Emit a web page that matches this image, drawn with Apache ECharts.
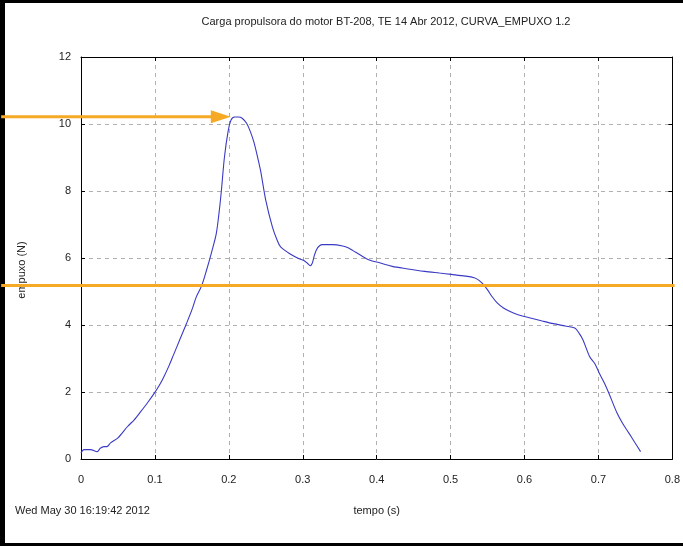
<!DOCTYPE html>
<html>
<head>
<meta charset="utf-8">
<script src="https://cdn.jsdelivr.net/npm/echarts@6/dist/echarts.min.js"></script>
<style>html,body{margin:0;padding:0;background:#fff;}#c{width:683px;height:546px;}</style>
</head>
<body>
<div id="c"></div>
<script>
// thrust curve (time in s, thrust in N)
var timeS = [0.000,0.004,0.013,0.022,0.026,0.031,0.035,0.040,0.050,0.063,0.072,0.081,0.090,0.099,0.106,0.112,0.119,0.125,0.134,0.143,0.150,0.156,0.163,0.170,0.177,0.183,0.187,0.190,0.194,0.199,0.203,0.208,0.213,0.218,0.224,0.229,0.234,0.239,0.243,0.250,0.259,0.265,0.270,0.283,0.295,0.301,0.306,0.310,0.313,0.316,0.320,0.326,0.340,0.354,0.362,0.368,0.380,0.390,0.405,0.421,0.440,0.465,0.485,0.501,0.520,0.532,0.538,0.543,0.550,0.556,0.563,0.572,0.585,0.597,0.608,0.624,0.639,0.655,0.668,0.674,0.679,0.688,0.695,0.701,0.708,0.714,0.725,0.733,0.741,0.749,0.757];
var thrustN = [0.18,0.28,0.28,0.22,0.32,0.37,0.37,0.48,0.63,0.97,1.17,1.42,1.68,1.96,2.20,2.45,2.78,3.10,3.58,4.06,4.45,4.84,5.16,5.65,6.20,6.73,7.40,8.03,9.00,9.78,10.12,10.21,10.21,10.17,10.02,9.78,9.45,9.00,8.60,7.72,6.92,6.55,6.33,6.12,5.98,5.93,5.85,5.77,5.85,6.10,6.30,6.40,6.40,6.36,6.30,6.22,6.06,5.94,5.85,5.75,5.68,5.60,5.55,5.51,5.46,5.41,5.34,5.24,5.05,4.85,4.66,4.50,4.36,4.27,4.21,4.12,4.04,3.97,3.91,3.75,3.56,3.06,2.85,2.57,2.27,1.97,1.38,1.05,0.78,0.50,0.22];
// orange annotations (data units)
var peakArrowT = [-0.108, 0.2027];   // start, arrow tip
var peakArrowN = [10.22, 10.22];
var avgLineT = [-0.108, 0.803];
var avgLineN = [5.18, 5.18];

var xTicks = { min: 0, max: 0.8, interval: 0.1 };
var yTicks = { min: 0, max: 12, interval: 2 };

var titleText = 'Carga propulsora do motor BT-208, TE 14 Abr 2012, CURVA_EMPUXO 1.2';
var dateText = 'Wed May 30 16:19:42 2012';
var xName = 'tempo (s)';
var yName = 'empuxo (N)';

function pairs(a, b) { return a.map(function (v, i) { return [v, b[i]]; }); }

var FONT = '"Liberation Sans", Arial, sans-serif';
var ORANGE = '#f5a925';
var chart = echarts.init(document.getElementById('c'), null, { renderer: 'canvas' });

var frame = [
  { type: 'text', left: 15, top: 505, style: { text: dateText, fontSize: 11, fill: '#222', fontFamily: FONT } },
  { type: 'text', x: 22, y: 270, rotation: Math.PI / 2,
    style: { text: yName, fontSize: 11, fill: '#222', fontFamily: FONT, align: 'center', verticalAlign: 'middle' } },
  { type: 'rect', shape: { x: 0, y: 0, width: 5, height: 546 }, style: { fill: '#000' }, z: 10 },
  { type: 'rect', shape: { x: 0, y: 0, width: 683, height: 3 }, style: { fill: '#000' }, z: 10 },
  { type: 'rect', shape: { x: 0, y: 543, width: 683, height: 3 }, style: { fill: '#000' }, z: 10 }
];

chart.setOption({
  animation: false,
  backgroundColor: '#fff',
  title: {
    text: titleText, left: 381, top: 11, textAlign: 'center',
    textStyle: { fontSize: 11, fontWeight: 'normal', color: '#222', fontFamily: FONT }
  },
  grid: { left: 81, right: 2, top: 57, bottom: 87 },
  xAxis: [{
    type: 'value', min: xTicks.min, max: xTicks.max, interval: xTicks.interval,
    name: xName, nameLocation: 'middle', nameGap: 46,
    nameTextStyle: { fontSize: 11, color: '#222', fontFamily: FONT },
    axisLine: { onZero: false, lineStyle: { color: '#000', width: 1 } },
    axisTick: { inside: true, length: 4, lineStyle: { color: '#000' } },
    axisLabel: { fontSize: 11, color: '#222', margin: 15, fontFamily: FONT, showMaxLabel: true },
    splitLine: { show: true, lineStyle: { color: '#b0b0b0', type: [4, 4], width: 1 } }
  }, {
    type: 'value', position: 'top', min: xTicks.min, max: xTicks.max, interval: xTicks.interval,
    axisLine: { onZero: false, lineStyle: { color: '#000', width: 1 } },
    axisTick: { inside: true, length: 4, lineStyle: { color: '#000' } },
    axisLabel: { show: false }, splitLine: { show: false }
  }],
  yAxis: [{
    type: 'value', min: yTicks.min, max: yTicks.max, interval: yTicks.interval,
    axisLine: { show: true, onZero: false, lineStyle: { color: '#000', width: 1 } },
    axisTick: { show: true, inside: true, length: 4, lineStyle: { color: '#000' } },
    axisLabel: { fontSize: 11, color: '#222', margin: 10, fontFamily: FONT },
    splitLine: { show: true, lineStyle: { color: '#b0b0b0', type: [4, 4], width: 1 } }
  }, {
    type: 'value', position: 'right', min: yTicks.min, max: yTicks.max, interval: yTicks.interval,
    axisLine: { show: true, onZero: false, lineStyle: { color: '#000', width: 1 } },
    axisTick: { show: true, inside: true, length: 4, lineStyle: { color: '#000' } },
    axisLabel: { show: false }, splitLine: { show: false }
  }],
  series: [{
    type: 'line', data: pairs(timeS, thrustN), showSymbol: false, symbol: 'none',
    lineStyle: { color: '#3a3ac4', width: 1.1 }, smooth: 0.3, z: 3
  }],
  graphic: frame
});

// orange annotations placed through the chart's own scales
function px(t, n) { return chart.convertToPixel({ gridIndex: 0 }, [t, n]); }
var a0 = px(peakArrowT[0], peakArrowN[0]);
var a1 = px(peakArrowT[1], peakArrowN[1]);
var l0 = px(avgLineT[0], avgLineN[0]);
var l1 = px(avgLineT[1], avgLineN[1]);
var headLen = 20, headHalf = 6.5;
chart.setOption({
  graphic: frame.concat([
    { type: 'line', shape: { x1: l0[0], y1: l0[1], x2: l1[0], y2: l1[1] },
      style: { stroke: ORANGE, lineWidth: 3 }, z: 12 },
    { type: 'line', shape: { x1: a0[0], y1: a0[1], x2: a1[0] - headLen + 2, y2: a1[1] },
      style: { stroke: ORANGE, lineWidth: 3 }, z: 12 },
    { type: 'polygon', shape: { points: [[a1[0], a1[1]], [a1[0] - headLen, a1[1] - headHalf], [a1[0] - headLen, a1[1] + headHalf]] },
      style: { fill: ORANGE }, z: 12 }
  ])
}, { replaceMerge: ['graphic'] });
</script>
</body>
</html>
